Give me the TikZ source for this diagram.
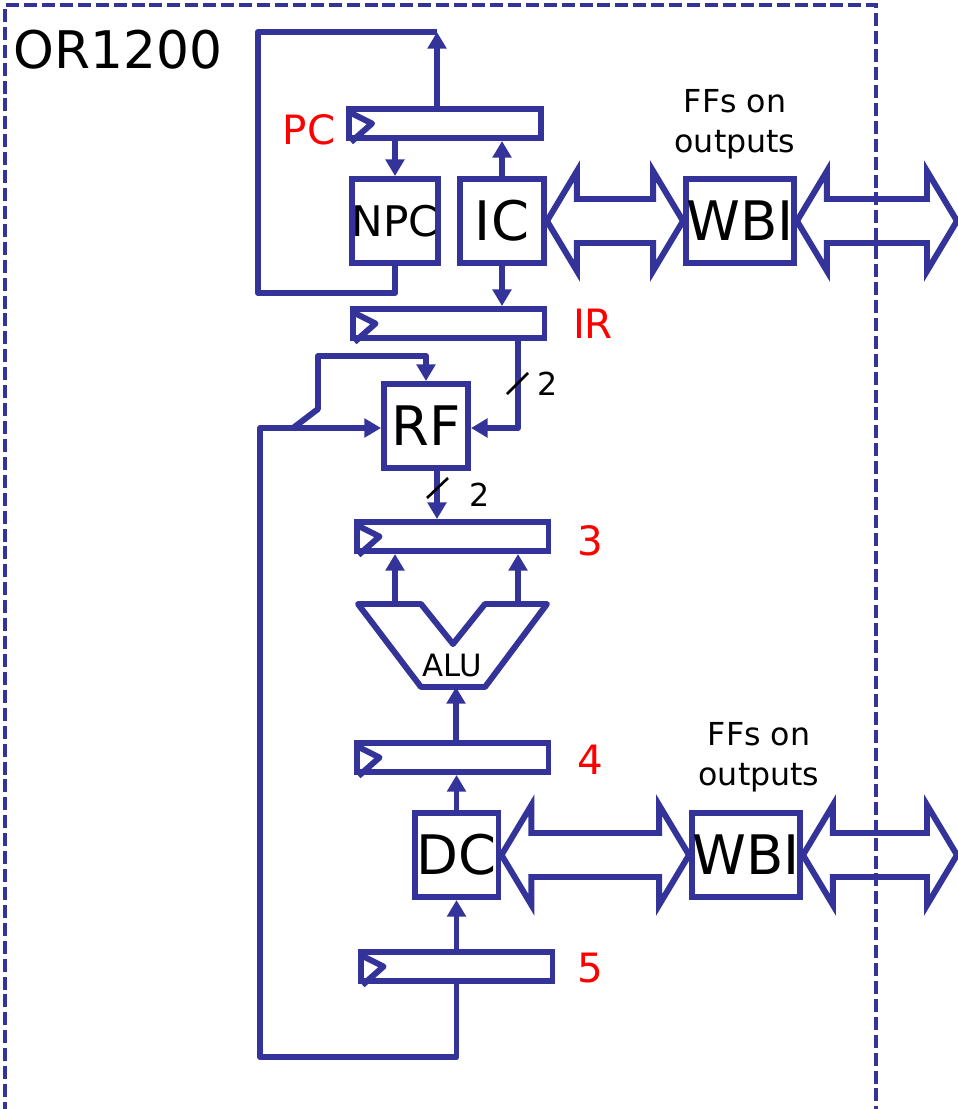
\documentclass[tikz,border=0pt]{standalone}
\usepackage{fontspec}
\setmainfont{DejaVu Sans}
\usepackage{xcolor}
\usepackage{tikz}
\usetikzlibrary{arrows.meta, calc}
\definecolor{orblue}{RGB}{51,51,153}

\begin{document}
\begin{tikzpicture}[x=0.02cm, y=-0.02cm,
    wire/.style={draw=orblue, line width=3.4pt, line join=round},
    arr/.style={wire, -{Triangle[length=9.5pt, width=10.5pt]}},
    fat/.style={draw=orblue, line width=3.4pt, line join=miter},
    reg/.style={draw=orblue, line width=3.4pt, minimum width=3.84cm,
      minimum height=0.58cm, inner sep=0pt},
    blk/.style={draw=orblue, line width=3.4pt, minimum width=1.68cm,
      minimum height=1.68cm, inner sep=0pt, font=\fontsize{31}{36}\selectfont},
    wbi/.style={blk, minimum width=2.16cm},
    stg/.style={text=red, inner sep=0pt, font=\fontsize{23}{27}\selectfont},
    note/.style={align=center, inner sep=0pt, font=\fontsize{18}{22.5}\selectfont},
    slash/.style={draw=black, line width=1.5pt},
  ]
    \useasboundingbox (0,0) rectangle (957,1109);

    % chip outline
    \draw[draw=orblue, line width=2pt, dash pattern=on 7.4pt off 2.8pt]
      (5,1115) -- (5,5) -- (876,5) -- (876,1115);
    \node[font=\fontsize{29.5}{34}\selectfont, inner sep=0pt] (chip) at (118,50) {OR1200};

    % pipeline registers
    \node[reg] (pc) at (445,123.5) {};
    \node[reg] (ir) at (448.5,323.5) {};
    \node[reg] (rC) at (452.5,536.5) {};
    \node[reg] (rD) at (452.5,757.5) {};
    \node[reg] (rE) at (456.5,966.5) {};
    \foreach \r in {pc, ir, rC, rD, rE}
      \draw[wire] ([shift={(5,7)}]\r.north west) -- ([shift={(26,0)}]\r.west)
        -- ([shift={(5,1)}]\r.south west);

    \node[stg] (pcl) at (309,130) {PC};
    \node[stg] (irl) at (593,324) {IR};
    \node[stg] (sC) at (590,541) {3};
    \node[stg] (sD) at (590,760) {4};
    \node[stg] (sE) at (590,968) {5};

    % blocks
    \node[blk, font=\fontsize{24}{28}\selectfont] (npc) at (395,221) {NPC};
    \node[blk] (ic) at (502,221) {IC};
    \node[wbi] (wbiA) at (740,221) {WBI};
    \node[blk] (rf) at (426,426) {RF};
    \node[blk] (dc) at (456.5,855) {DC};
    \node[wbi] (wbiB) at (746,855) {WBI};

    \node[note] (ffA) at (735,124) {FFs on\\outputs};
    \node[note] (ffB) at (759,757) {FFs on\\outputs};

    % ALU
    \draw[wire] (358,604) -- (421,604) -- (453,644) -- (485,604) -- (547,604)
      -- (485,687) -- (421,687) -- cycle;
    \node[font=\fontsize{17.5}{21}\selectfont, inner sep=0pt] (alu) at (452,666) {ALU};
    \coordinate (aluL) at (395,604);
    \coordinate (aluR) at (518,604);
    \coordinate (aluB) at (456,687);

    \coordinate (pcout) at (437,32);
    \coordinate (loopL) at (258,293);
    \coordinate (irR) at (518,428);
    \coordinate (rfo) at (437,0);
    \coordinate (fbJ) at (293,428);
    \coordinate (fbK) at (318,409);
    \coordinate (fbT) at (318,356);
    \coordinate (fbB) at (260,1057);
    \coordinate (extA) at (957,221);
    \coordinate (extB) at (957,855);

    % fetch
    \draw[wire] (npc.south) |- (loopL) |- (pcout);
    \draw[arr] (pcout |- pc.north) -- (pcout);
    \draw[arr] (npc.north |- pc.south) -- (npc.north);
    \draw[arr] (ic.north) -- (ic.north |- pc.south);
    \draw[arr] (ic.south) -- (ic.south |- ir.north);

    % decode
    \draw[arr] (irR |- ir.south) -- (irR) -- (irR -| rf.east);
    \draw[arr] (fbJ) -- (fbK) -- (fbT) -| (rf.north);
    \draw[arr] (rfo |- rf.south) -- (rfo |- rC.north);
    \draw[slash] (507,394) -- (528,373);
    \node[note] (wA) at (548,384) {2};
    \draw[slash] (427,498) -- (448,478);
    \node[note] (wB) at (480,495) {2};

    % execute, memory, write back
    \draw[arr] (aluL) -- (aluL |- rC.south);
    \draw[arr] (aluR) -- (aluR |- rC.south);
    \draw[arr] (aluB |- rD.north) -- (aluB);
    \draw[arr] (dc.north) -- (dc.north |- rD.south);
    \draw[arr] (dc.south |- rE.north) -- (dc.south);
    \draw[arr] (rE.south -| dc.south) |- (fbB) |- (fbJ) -- (fbJ -| rf.west);

    % bus arrows
    \foreach \a/\b in {ic.east/wbiA.west, wbiA.east/extA, dc.east/wbiB.west, wbiB.east/extB}
      \draw[fat] (\a) -- ++(30,-50) -- ++(0,28) -- ($(\b)+(-30,-22)$) -- ++(0,-28)
        -- (\b) -- ++(-30,50) -- ++(0,-28) -- ($(\a)+(30,22)$) -- ++(0,28) -- cycle;
  \end{tikzpicture}
\end{document}
